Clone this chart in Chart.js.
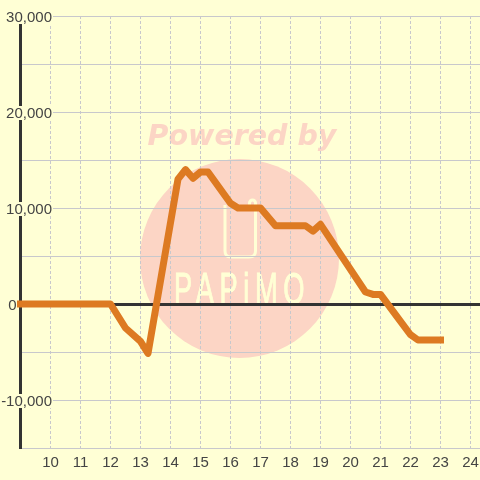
<!DOCTYPE html>
<html>
<head>
<meta charset="utf-8">
<style>
  html, body { margin: 0; padding: 0; background: #ffffd5; }
  #wrap { width: 480px; height: 480px; }
</style>
<script src="https://cdn.jsdelivr.net/npm/chart.js@4"></script>
</head>
<body>
<div id="wrap"><canvas id="chart" width="480" height="480"></canvas></div>
<script>
const HOURS = [9, 12, 12.5, 13, 13.25, 14.25, 14.5, 14.75, 15, 15.25, 16, 16.25, 17, 17.5, 18.5, 18.75, 19, 20.5, 20.75, 21, 21.5, 22, 22.25, 23];
const PROFIT = [0, 0, -2500, -3900, -5150, 13000, 14000, 13100, 13750, 13750, 10500, 10000, 10000, 8150, 8150, 7600, 8300, 1250, 1000, 1000, -1100, -3200, -3750, -3750];
const X_TICKS = [10, 11, 12, 13, 14, 15, 16, 17, 18, 19, 20, 21, 22, 23, 24];
const Y_LABELLED = [30000, 20000, 10000, 0, -10000];

const GRID = '#c8c8cc';
const AXIS = '#333333';
const INK = '#444444';
const BG = '#ffffd5';
const PINK = '#fcd5c5';

// logo sits under the grid, so it has to go in before the scales draw
const watermark = {
  id: 'watermark',
  beforeDraw(chart) {
    const ctx = chart.ctx;
    ctx.save();
    ctx.fillStyle = BG;
    ctx.fillRect(0, 0, 480, 480);
    ctx.fillStyle = PINK;
    ctx.beginPath();
    ctx.arc(239.5, 258.5, 99.5, 0, Math.PI * 2);
    ctx.fill();
    ctx.font = 'italic bold 28.5px "DejaVu Sans"';
    ctx.textAlign = 'center';
    ctx.textBaseline = 'alphabetic';
    ctx.fillText('Powered by', 242, 145);
    // phone outline with the little tab at the top right
    ctx.strokeStyle = BG;
    ctx.lineWidth = 3;
    ctx.beginPath();
    ctx.moveTo(225, 205);
    ctx.lineTo(225, 251);
    ctx.quadraticCurveTo(225, 257, 231, 257);
    ctx.lineTo(249, 257);
    ctx.quadraticCurveTo(255.5, 257, 255.5, 251);
    ctx.lineTo(255.5, 203);
    ctx.arc(252.5, 203, 3, 0, Math.PI, true);
    ctx.lineTo(249.5, 208);
    ctx.stroke();
    // squeezed sideways to get the tall narrow logo letters
    ctx.translate(242, 304);
    ctx.scale(0.62, 1);
    ctx.fillStyle = BG;
    ctx.lineWidth = 1;
    ctx.font = '44px "Liberation Sans"';
    ctx.letterSpacing = '9px';
    ctx.fillText('PAPiMO', 0, 0);
    ctx.strokeText('PAPiMO', 0, 0);
    ctx.restore();
  },
};

// y labels hang over the plot area and blank out the axis and grid behind them
const yLabels = {
  id: 'yLabels',
  beforeDatasetsDraw(chart) {
    const ctx = chart.ctx;
    const y = chart.scales.y;
    ctx.save();
    ctx.font = '15px "Liberation Sans"';
    ctx.textAlign = 'right';
    ctx.textBaseline = 'alphabetic';
    Y_LABELLED.forEach(v => {
      const py = Math.round(y.getPixelForValue(v));
      const text = v.toLocaleString('en-US');
      const right = v === 0 ? 16.5 : 52;
      const w = ctx.measureText(text).width;
      ctx.fillStyle = BG;
      if (v !== 0) ctx.fillRect(right - w - 2, py - 6, w + 3, 14);
      ctx.fillStyle = INK;
      ctx.fillText(text, right, py + 6);
    });
    ctx.restore();
  },
};

new Chart(document.getElementById('chart'), {
  type: 'line',
  data: {
    datasets: [{
      data: HOURS.map((h, i) => ({ x: h, y: PROFIT[i] })),
      borderColor: '#dd7a22',
      borderWidth: 7,
      borderCapStyle: 'square',
      borderJoinStyle: 'round',
      pointRadius: 0,
      tension: 0,
      clip: false,
    }],
  },
  options: {
    responsive: false,
    animation: false,
    layout: { autoPadding: false, padding: { top: 16, right: 0, bottom: 0, left: 0 } },
    plugins: { legend: { display: false }, tooltip: { enabled: false } },
    scales: {
      x: {
        type: 'linear',
        min: 9,
        max: 24.317,
        afterBuildTicks: s => { s.ticks = X_TICKS.map(v => ({ value: v })); },
        afterFit: s => { s.height = 32; s.paddingLeft = 0; s.paddingRight = 0; },
        grid: { color: GRID, lineWidth: 1, drawTicks: false },
        border: { display: false, dash: [3, 2] },
        ticks: {
          color: INK,
          font: { family: '"Liberation Sans"', size: 15 },
          padding: 6,
          maxRotation: 0,
          autoSkip: false,
          callback: v => String(v),
        },
      },
      y: {
        type: 'linear',
        min: -15000,
        max: 30000,
        afterFit: s => { s.width = 20.5; },
        grid: {
          color: c => c.tick.value === 0 ? AXIS : GRID,
          lineWidth: c => c.tick.value === 0 ? 3 : 1,
          drawTicks: false,
        },
        border: { color: AXIS, width: 3 },
        ticks: { stepSize: 5000, autoSkip: false, display: false },
      },
    },
  },
  plugins: [watermark, yLabels],
});
</script>
</body>
</html>
